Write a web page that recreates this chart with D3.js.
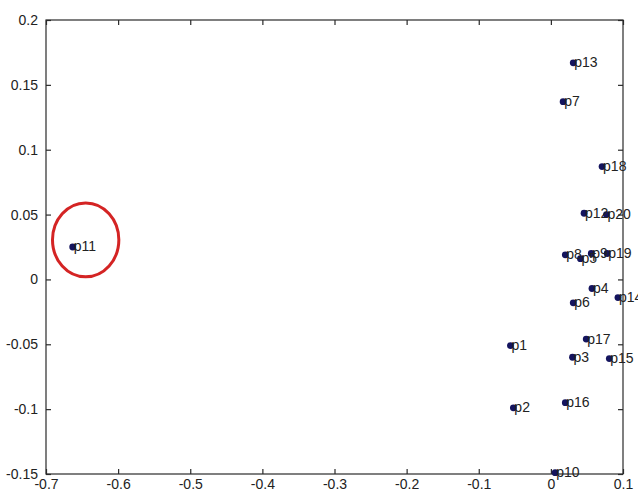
<!DOCTYPE html>
<html>
<head>
<meta charset="utf-8">
<script src="https://cdn.jsdelivr.net/npm/d3@7"></script>
<style>
  html, body { margin: 0; padding: 0; background: #fff; }
  svg text { font-family: 'Liberation Sans', Arial, sans-serif; }
</style>
</head>
<body>
<div id="chart"></div>
<script>
// point labels and their coordinates
const labels = ['p1', 'p2', 'p3', 'p4', 'p5', 'p6', 'p7', 'p8', 'p9', 'p10',
  'p11', 'p12', 'p13', 'p14', 'p15', 'p16', 'p17', 'p18', 'p19', 'p20']
const xValues = [-0.056, -0.052, 0.030, 0.057, 0.041, 0.031, 0.017, 0.020, 0.056, 0.006,
  -0.663, 0.046, 0.031, 0.093, 0.081, 0.020, 0.049, 0.071, 0.078, 0.077]
const yValues = [-0.051, -0.099, -0.060, -0.007, 0.016, -0.018, 0.137, 0.019, 0.020, -0.149,
  0.025, 0.051, 0.167, -0.014, -0.061, -0.095, -0.046, 0.087, 0.020, 0.050]

// axis ticks
const xTicks = [-0.7, -0.6, -0.5, -0.4, -0.3, -0.2, -0.1, 0, 0.1]
const yTicks = [-0.15, -0.1, -0.05, 0, 0.05, 0.1, 0.15, 0.2]
const xTickLabels = ['-0.7', '-0.6', '-0.5', '-0.4', '-0.3', '-0.2', '-0.1', '0', '0.1']
const yTickLabels = ['-0.15', '-0.1', '-0.05', '0', '0.05', '0.1', '0.15', '0.2']

// red outlier ring: centre and radii in data units
const ringCenter = [-0.645, 0.0305]
const ringRadius = [0.046, 0.0285]

const W = 638
const H = 491
const MARGIN = { top: 20, right: 15, bottom: 17, left: 46 }
const innerWidth = W - MARGIN.left - MARGIN.right
const innerHeight = H - MARGIN.top - MARGIN.bottom
const TICK = 5

const points = labels.map((name, i) => ({ name, x: xValues[i], y: yValues[i] }))

const svg = d3.select('#chart').append('svg')
  .attr('width', W)
  .attr('height', H)

const g = svg.append('g')
  .attr('transform', `translate(${MARGIN.left},${MARGIN.top})`)

const x = d3.scaleLinear().domain([-0.7, 0.1]).range([0, innerWidth])
const y = d3.scaleLinear().domain([-0.15, 0.2]).range([innerHeight, 0])

// box with inward ticks on all four sides (matlab style)
g.append('rect')
  .attr('width', innerWidth)
  .attr('height', innerHeight)
  .attr('fill', 'none')
  .attr('stroke', '#2a2a2a')
  .attr('stroke-width', 1.2)

const fmtX = d => xTickLabels[xTicks.indexOf(d)]
const fmtY = d => yTickLabels[yTicks.indexOf(d)]

const axBottom = g.append('g')
  .attr('transform', `translate(0,${innerHeight})`)
  .call(d3.axisBottom(x).tickValues(xTicks).tickFormat(fmtX).tickSizeInner(-TICK).tickSizeOuter(0).tickPadding(5))
const axTop = g.append('g')
  .call(d3.axisTop(x).tickValues(xTicks).tickFormat('').tickSizeInner(-TICK).tickSizeOuter(0))
const axLeft = g.append('g')
  .call(d3.axisLeft(y).tickValues(yTicks).tickFormat(fmtY).tickSizeInner(-TICK).tickSizeOuter(0).tickPadding(8))
const axRight = g.append('g')
  .attr('transform', `translate(${innerWidth},0)`)
  .call(d3.axisRight(y).tickValues(yTicks).tickFormat('').tickSizeInner(-TICK).tickSizeOuter(0))

;[axBottom, axTop, axLeft, axRight].forEach(a => {
  a.select('.domain').remove()
  a.selectAll('line').attr('stroke', '#2a2a2a').attr('stroke-width', 1.2)
  a.selectAll('text').attr('fill', '#222').attr('font-size', '14px')
})

// the highlight ring
g.append('ellipse')
  .attr('cx', x(ringCenter[0]))
  .attr('cy', y(ringCenter[1]))
  .attr('rx', x(ringCenter[0] + ringRadius[0]) - x(ringCenter[0]))
  .attr('ry', y(ringCenter[1]) - y(ringCenter[1] + ringRadius[1]))
  .attr('fill', 'none')
  .attr('stroke', '#d42424')
  .attr('stroke-width', 3)

// markers
g.selectAll('circle.pt')
  .data(points)
  .join('circle')
  .attr('class', 'pt')
  .attr('cx', d => x(d.x))
  .attr('cy', d => y(d.y))
  .attr('r', 3.4)
  .attr('fill', '#14145e')

// labels start right at the marker
g.selectAll('text.lbl')
  .data(points)
  .join('text')
  .attr('class', 'lbl')
  .attr('x', d => x(d.x) + 1)
  .attr('y', d => y(d.y))
  .attr('dy', '0.32em')
  .attr('font-size', '14px')
  .attr('fill', '#222')
  .text(d => d.name)
</script>
</body>
</html>
